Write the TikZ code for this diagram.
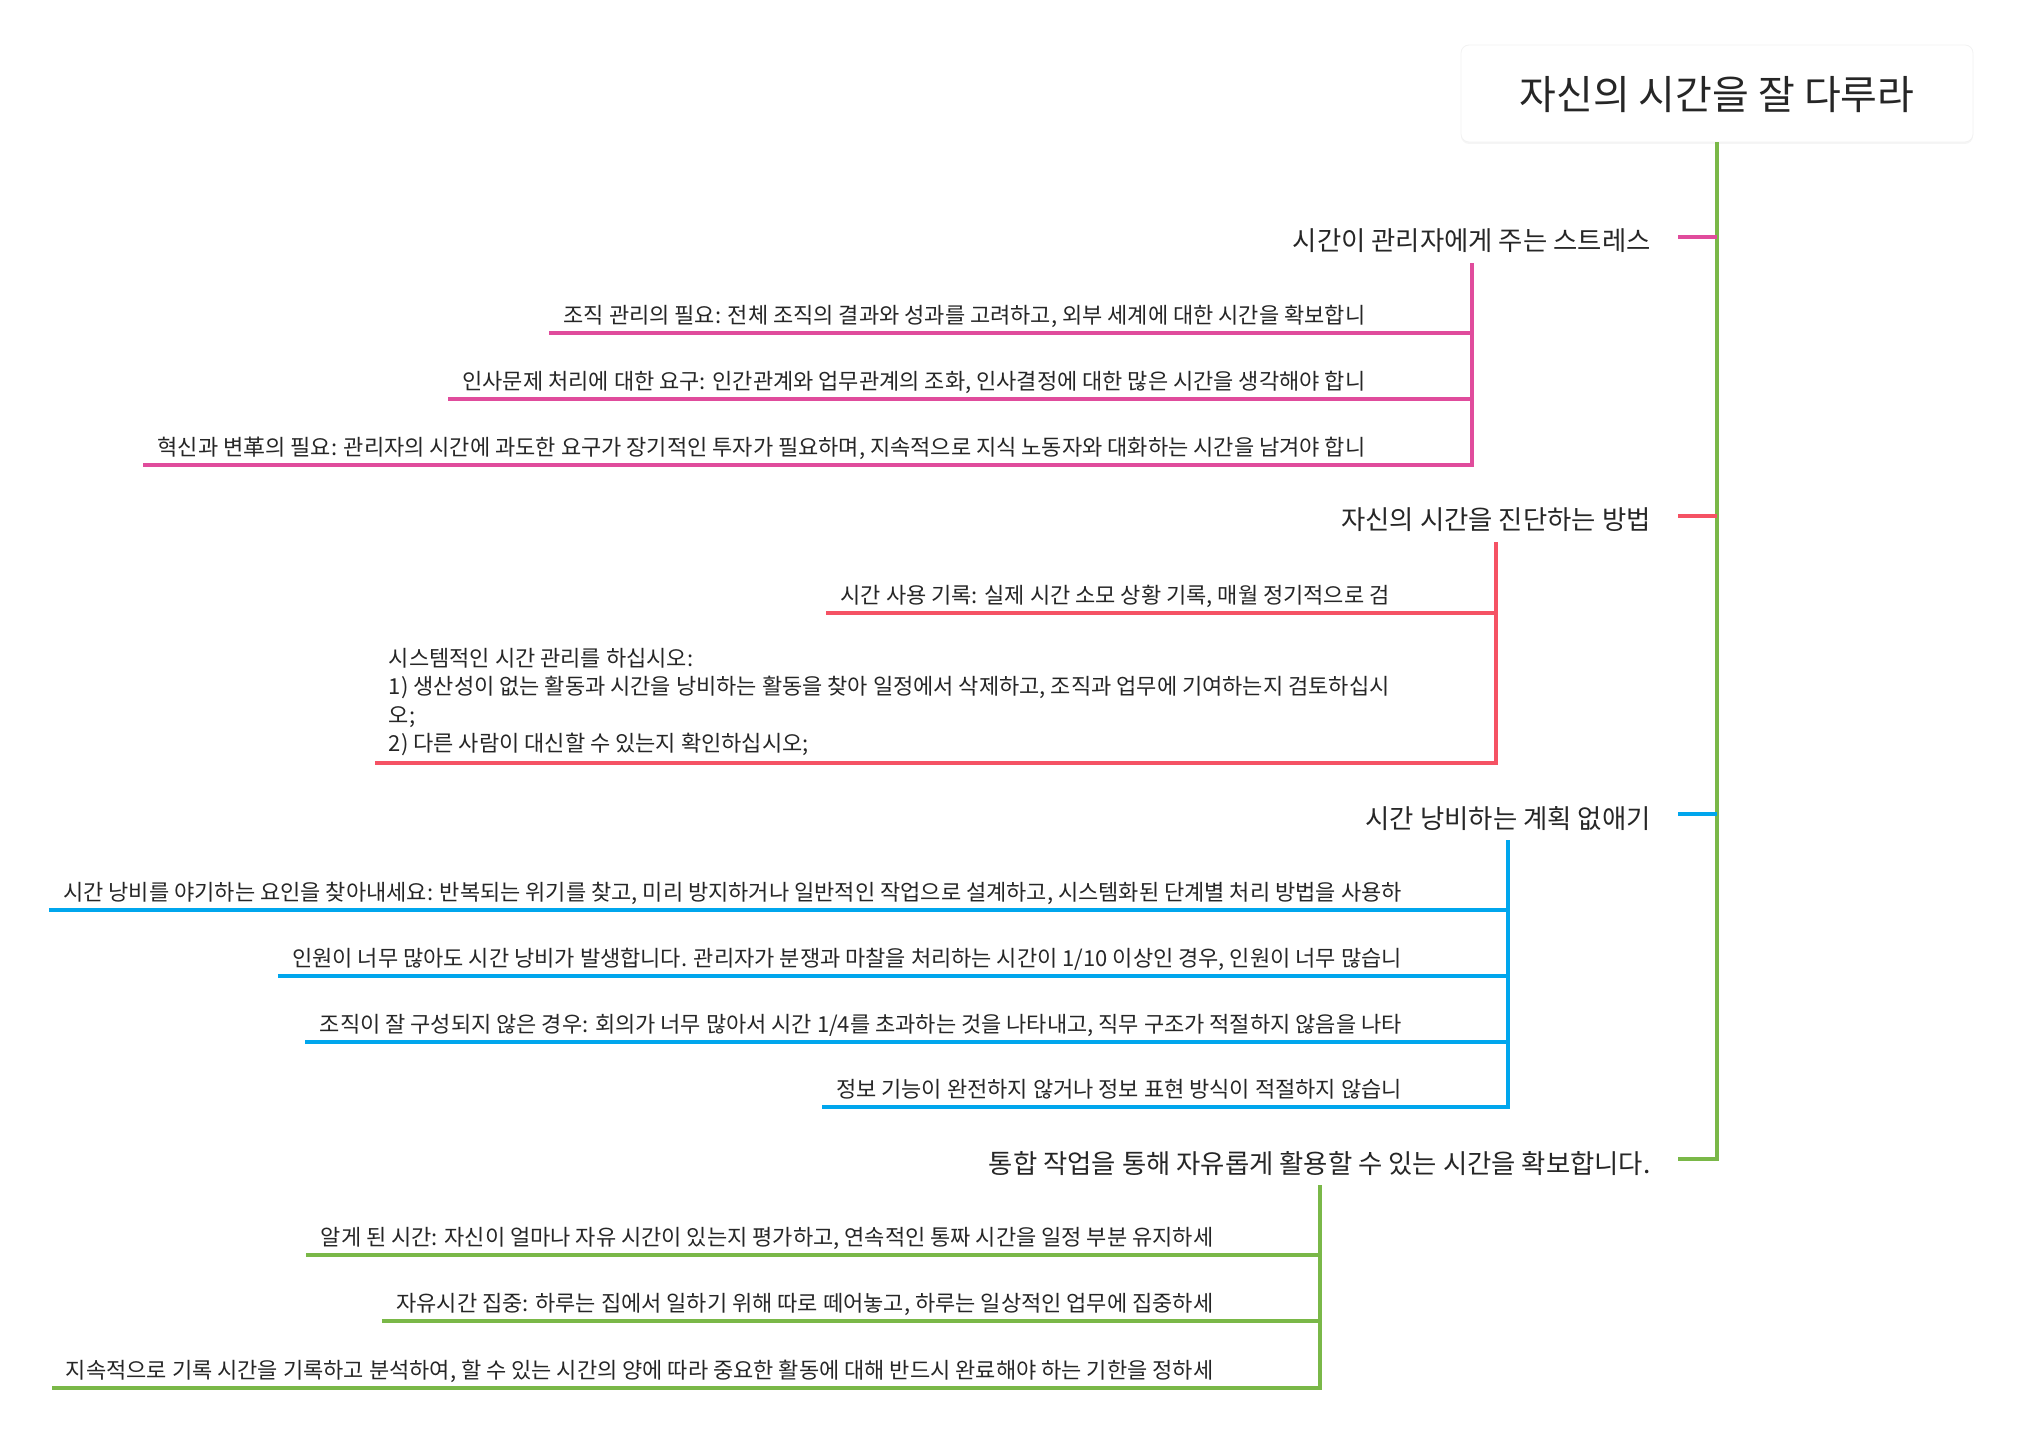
\documentclass[tikz,border=0pt]{standalone}
\usepackage{fontspec}
\setmainfont{Noto Sans CJK KR}
\usetikzlibrary{calc,shadows}
\definecolor{cpink}{RGB}{224,76,156}
\definecolor{cred}{RGB}{245,82,100}
\definecolor{cblue}{RGB}{0,166,237}
\definecolor{cgreen}{RGB}{122,184,72}
\definecolor{ctext}{RGB}{38,38,38}
\tikzset{
  kid/.style={font=\fontsize{11pt}{14.2pt}\selectfont, text=ctext, inner xsep=7pt, inner ysep=3.8pt, text height=9.5pt, text depth=1.1pt, anchor=south east},
  kidml/.style={font=\fontsize{11pt}{14.2pt}\selectfont, text=ctext, inner xsep=7pt, inner ysep=3.55pt, align=left, anchor=south east},
  topic/.style={font=\fontsize{13.2pt}{15pt}\selectfont, text=ctext, inner xsep=13.5pt, inner ysep=5pt, text height=15pt, text depth=1pt, anchor=east},
  rootbox/.style={font=\fontsize{20pt}{24pt}\selectfont, text=ctext, text height=17.5pt, text depth=1.1pt, minimum width=256pt, minimum height=48.5pt, rounded corners=4pt, fill=white, draw=black!5, drop shadow={shadow xshift=0pt, shadow yshift=-1pt, opacity=0.08}},
  link/.style={line width=2pt}
}
\begin{document}
\begin{tikzpicture}[x=0.5pt,y=-0.5pt]
\useasboundingbox (0,0) rectangle (2019,1449);
% root
\node[rootbox] (root) at (1717,93.5) {자신의 시간을 잘 다루라};
% main topics
\node[topic] (p1) at (1678,237) {시간이 관리자에게 주는 스트레스};
\node[topic] (p2) at (1678,516) {자신의 시간을 진단하는 방법};
\node[topic] (p3) at (1678,814) {시간 낭비하는 계획 없애기};
\node[topic] (p4) at (1678,1159) {통합 작업을 통해 자유롭게 활용할 수 있는 시간을 확보합니다.};
% trunk and stubs
\draw[link, cgreen] (root.south) |- (p4.east);
\draw[link, cpink] (p1.east) -- (p1.east -| root.south);
\draw[link, cred] (p2.east) -- (p2.east -| root.south);
\draw[link, cblue] (p3.east) -- (p3.east -| root.south);

% branch 1
\coordinate (j11) at ($(p1.south)+(0,70)$);
\coordinate (j12) at ($(p1.south)+(0,136)$);
\coordinate (j13) at ($(p1.south)+(0,202)$);
\node[kid] (c11) at ($(j11)+(-92,0)$) {조직 관리의 필요: 전체 조직의 결과와 성과를 고려하고, 외부 세계에 대한 시간을 확보합니};
\node[kid] (c12) at ($(j12)+(-92,0)$) {인사문제 처리에 대한 요구: 인간관계와 업무관계의 조화, 인사결정에 대한 많은 시간을 생각해야 합니};
\node[kid] (c13) at ($(j13)+(-92,0)$) {혁신과 변革의 필요: 관리자의 시간에 과도한 요구가 장기적인 투자가 필요하며, 지속적으로 지식 노동자와 대화하는 시간을 남겨야 합니};
\draw[link, cpink] (c11.south west) -- (j11);
\draw[link, cpink] (c12.south west) -- (j12);
\draw[link, cpink] (p1.south) -- (j13) -- (c13.south west);

% branch 2
\coordinate (j21) at ($(p2.south)+(0,71)$);
\coordinate (j22) at ($(p2.south)+(0,221)$);
\node[kid] (c21) at ($(j21)+(-92,0)$) {시간 사용 기록: 실제 시간 소모 상황 기록, 매월 정기적으로 검};
\node[kidml] (c22) at ($(j22)+(-92,0)$) {시스템적인 시간 관리를 하십시오:\\1) 생산성이 없는 활동과 시간을 낭비하는 활동을 찾아 일정에서 삭제하고, 조직과 업무에 기여하는지 검토하십시\\오;\\2) 다른 사람이 대신할 수 있는지 확인하십시오;\rule[-2pt]{0pt}{2pt}};
\draw[link, cred] (c21.south west) -- (j21);
\draw[link, cred] (p2.south) -- (j22) -- (c22.south west);

% branch 3
\coordinate (j31) at ($(p3.south)+(0,70)$);
\coordinate (j32) at ($(p3.south)+(0,136)$);
\coordinate (j33) at ($(p3.south)+(0,202)$);
\coordinate (j34) at ($(p3.south)+(0,267)$);
\node[kid] (c31) at ($(j31)+(-92,0)$) {시간 낭비를 야기하는 요인을 찾아내세요: 반복되는 위기를 찾고, 미리 방지하거나 일반적인 작업으로 설계하고, 시스템화된 단계별 처리 방법을 사용하};
\node[kid] (c32) at ($(j32)+(-92,0)$) {인원이 너무 많아도 시간 낭비가 발생합니다. 관리자가 분쟁과 마찰을 처리하는 시간이 1/10 이상인 경우, 인원이 너무 많습니};
\node[kid] (c33) at ($(j33)+(-92,0)$) {조직이 잘 구성되지 않은 경우: 회의가 너무 많아서 시간 1/4를 초과하는 것을 나타내고, 직무 구조가 적절하지 않음을 나타};
\node[kid] (c34) at ($(j34)+(-92,0)$) {정보 기능이 완전하지 않거나 정보 표현 방식이 적절하지 않습니};
\draw[link, cblue] (c31.south west) -- (j31);
\draw[link, cblue] (c32.south west) -- (j32);
\draw[link, cblue] (c33.south west) -- (j33);
\draw[link, cblue] (p3.south) -- (j34) -- (c34.south west);

% branch 4
\coordinate (j41) at ($(p4.south)+(0,70)$);
\coordinate (j42) at ($(p4.south)+(0,136)$);
\coordinate (j43) at ($(p4.south)+(0,203)$);
\node[kid] (c41) at ($(j41)+(-92,0)$) {알게 된 시간: 자신이 얼마나 자유 시간이 있는지 평가하고, 연속적인 통짜 시간을 일정 부분 유지하세};
\node[kid] (c42) at ($(j42)+(-92,0)$) {자유시간 집중: 하루는 집에서 일하기 위해 따로 떼어놓고, 하루는 일상적인 업무에 집중하세};
\node[kid] (c43) at ($(j43)+(-92,0)$) {지속적으로 기록 시간을 기록하고 분석하여, 할 수 있는 시간의 양에 따라 중요한 활동에 대해 반드시 완료해야 하는 기한을 정하세};
\draw[link, cgreen] (c41.south west) -- (j41);
\draw[link, cgreen] (c42.south west) -- (j42);
\draw[link, cgreen] (p4.south) -- (j43) -- (c43.south west);
\end{tikzpicture}
\end{document}
